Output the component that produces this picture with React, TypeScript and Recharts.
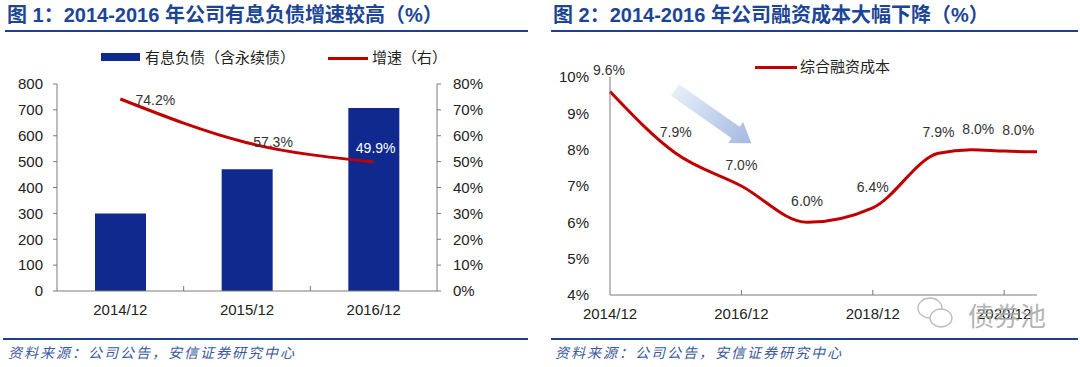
import {
  ComposedChart,
  Bar,
  Line,
  LineChart,
  XAxis,
  YAxis,
  LabelList,
} from "recharts";

// left chart: interest-bearing debt and growth
const periods = ["2014/12", "2015/12", "2016/12"];
const debt = [300, 471, 707];
const growth = [74.2, 57.3, 49.9];
const debtTicks = [0, 100, 200, 300, 400, 500, 600, 700, 800];
const growthTicks = [0, 10, 20, 30, 40, 50, 60, 70, 80];

// right chart: overall financing cost
const costPeriods = [
  "2014/12",
  "2015/12",
  "2016/12",
  "2017/12",
  "2018/12",
  "2019/12",
  "2020/06",
  "2020/12",
  "2021/06",
];
const cost = [9.6, 7.9, 7.0, 6.0, 6.4, 7.9, 8.0, 7.96, 7.94];
const costTickLabels = ["2014/12", "2016/12", "2018/12", "2020/12"];
const costYTicks = [4, 5, 6, 7, 8, 9, 10];

const toYear = (p: string) => {
  const [y, m] = p.split("/");
  return Number(y) + Number(m) / 12;
};

const debtData = periods.map((period, i) => ({
  period,
  debt: debt[i],
  growth: growth[i],
}));

const costData = costPeriods.map((period, i) => ({
  t: toYear(period),
  cost: cost[i],
}));

const BLUE = "#10298f";
const RED = "#c00000";
const TITLE = "#1d4596";
const AXIS = "#7a7a7a";
const TEXT = "#222";
const FONT = '"Liberation Sans", Arial, "Noto Sans CJK SC", sans-serif';
const CJK = '"Noto Sans CJK SC", "Liberation Sans", sans-serif';

const LEFT_BAND = 380 / periods.length;

const PeriodTick = (props: any) => {
  const { x, y, payload, index } = props;
  return (
    <g>
      {index > 0 && (
        <line
          x1={x - LEFT_BAND / 2}
          x2={x - LEFT_BAND / 2}
          y1={y - 5}
          y2={y}
          stroke={AXIS}
        />
      )}
      <text
        x={x}
        y={y + 19}
        dy="0.35em"
        textAnchor="middle"
        fontSize={15}
        fontFamily={FONT}
        fill={TEXT}
      >
        {payload.value}
      </text>
    </g>
  );
};

const CostTick = (props: any) => {
  const { x, y, index } = props;
  return (
    <g>
      {index > 0 && <line x1={x} x2={x} y1={y - 5} y2={y} stroke={AXIS} />}
      <text
        x={x}
        y={y + 19}
        dy="0.35em"
        textAnchor="middle"
        fontSize={15}
        fontFamily={FONT}
        fill={TEXT}
      >
        {costTickLabels[index]}
      </text>
    </g>
  );
};

const growthLabel = (props: any) => {
  const { x, y, value, index } = props;
  const shift = [
    [35, 1],
    [26, -1],
    [2, -14],
  ][index];
  return (
    <text
      x={x + shift[0]}
      y={y + shift[1]}
      dy="0.35em"
      textAnchor="middle"
      fontSize={14}
      fontFamily={FONT}
      fill={index === 2 ? "#fff" : "#333"}
    >
      {value.toFixed(1)}%
    </text>
  );
};

const costLabel = (props: any) => {
  const { x, y, value, index } = props;
  if (index === cost.length - 1) return null;
  const dx = index === 6 ? 7 : index === 7 ? 14 : index === 0 ? -1 : 0;
  return (
    <text
      x={x + dx}
      y={y - 21}
      dy="0.35em"
      textAnchor="middle"
      fontSize={14}
      fontFamily={FONT}
      fill="#333"
    >
      {value.toFixed(1)}%
    </text>
  );
};

const Title = ({ text, left }: { text: string; left: number }) => (
  <div
    style={{
      position: "absolute",
      left,
      top: 3,
      fontFamily: '"Liberation Sans", "Noto Sans CJK SC", sans-serif',
      fontWeight: 700,
      fontSize: 20,
      lineHeight: "24px",
      color: TITLE,
      whiteSpace: "nowrap",
    }}
  >
    {text}
  </div>
);

const Rule = ({ left, width, top }: { left: number; width: number; top: number }) => (
  <div
    style={{
      position: "absolute",
      left,
      top,
      width,
      height: 2,
      background: "#1f3f8f",
    }}
  />
);

const Source = ({ left }: { left: number }) => (
  <div
    style={{
      position: "absolute",
      left,
      top: 343,
      fontFamily: CJK,
      fontStyle: "italic",
      fontSize: 14,
      letterSpacing: 2,
      lineHeight: "18px",
      color: "#3a5a9c",
      whiteSpace: "nowrap",
    }}
  >
    资料来源：公司公告，安信证券研究中心
  </div>
);

const legendText = {
  position: "absolute" as const,
  fontFamily: CJK,
  fontSize: 15,
  lineHeight: "18px",
  color: TEXT,
  whiteSpace: "nowrap" as const,
};

export default function App() {
  return (
    <div
      style={{
        position: "absolute",
        left: 0,
        top: 0,
        width: 1080,
        height: 367,
        background: "#fff",
        overflow: "hidden",
      }}
    >
      <Title text="图 1：2014-2016 年公司有息负债增速较高（%）" left={7} />
      <Title text="图 2：2014-2016 年公司融资成本大幅下降（%）" left={553} />
      <Rule left={5} width={523} top={30} />
      <Rule left={551} width={527} top={30} />
      <Rule left={3} width={525} top={338} />
      <Rule left={551} width={527} top={338} />
      <Source left={8} />
      <Source left={555} />

      {/* left legend */}
      <div style={{ position: "absolute", left: 101, top: 53, width: 39, height: 8, background: BLUE }} />
      <div style={{ ...legendText, left: 145, top: 48 }}>有息负债（含永续债）</div>
      <div style={{ position: "absolute", left: 328, top: 57, width: 40, height: 3, background: RED }} />
      <div style={{ ...legendText, left: 372, top: 48 }}>增速（右）</div>

      {/* right legend */}
      <div style={{ position: "absolute", left: 755, top: 66, width: 42, height: 3, background: RED }} />
      <div style={{ ...legendText, left: 800, top: 57 }}>综合融资成本</div>

      <div style={{ position: "absolute", left: 0, top: 0 }}>
        <ComposedChart
          width={510}
          height={320}
          data={debtData}
          margin={{ top: 84, right: 30, bottom: 4, left: 10 }}
          barCategoryGap="30%"
        >
          <XAxis
            dataKey="period"
            height={25}
            tickSize={0}
            tickMargin={0}
            tickLine={false}
            interval={0}
            tick={<PeriodTick />}
            axisLine={{ stroke: AXIS }}
          />
          <YAxis
            yAxisId="left"
            width={47}
            domain={[0, 800]}
            ticks={debtTicks}
            interval={0}
            tickSize={4}
            tickMargin={10}
            axisLine={{ stroke: AXIS }}
            tickLine={{ stroke: AXIS }}
            tick={{ fontSize: 15, fontFamily: FONT, fill: TEXT }}
          />
          <YAxis
            yAxisId="right"
            orientation="right"
            width={43}
            domain={[0, 80]}
            ticks={growthTicks}
            interval={0}
            tickSize={4}
            tickMargin={12}
            tickFormatter={(v) => `${v}%`}
            axisLine={{ stroke: AXIS }}
            tickLine={{ stroke: AXIS }}
            tick={{ fontSize: 15, fontFamily: FONT, fill: TEXT, textAnchor: "start" }}
          />
          <Bar yAxisId="left" dataKey="debt" fill={BLUE} isAnimationActive={false} />
          <Line
            yAxisId="right"
            type="monotone"
            dataKey="growth"
            stroke={RED}
            strokeWidth={3}
            dot={false}
            isAnimationActive={false}
          >
            <LabelList dataKey="growth" content={growthLabel} />
          </Line>
        </ComposedChart>
      </div>

      <div style={{ position: "absolute", left: 540, top: 0 }}>
        <LineChart
          width={540}
          height={330}
          data={costData}
          margin={{ top: 77, right: 43, bottom: 10, left: 10 }}
        >
          <XAxis
            dataKey="t"
            type="number"
            domain={[toYear(costPeriods[0]), toYear(costPeriods[costPeriods.length - 1])]}
            ticks={costTickLabels.map(toYear)}
            interval={0}
            height={25}
            tickSize={0}
            tickMargin={0}
            tickLine={false}
            tick={<CostTick />}
            axisLine={{ stroke: AXIS }}
          />
          <YAxis
            width={60}
            domain={[4, 10]}
            ticks={costYTicks}
            interval={0}
            tickLine={false}
            tickMargin={15}
            tickFormatter={(v) => `${v}%`}
            axisLine={{ stroke: AXIS }}
            tick={{ fontSize: 15, fontFamily: FONT, fill: TEXT }}
          />
          <Line
            type="monotone"
            dataKey="cost"
            stroke={RED}
            strokeWidth={3}
            dot={false}
            isAnimationActive={false}
          >
            <LabelList dataKey="cost" content={costLabel} />
          </Line>
        </LineChart>
      </div>

      {/* decorative arrow and watermark */}
      <svg
        width={1080}
        height={367}
        style={{ position: "absolute", left: 0, top: 0, pointerEvents: "none" }}
      >
        <defs>
          <linearGradient id="arrowFill" x1="0" y1="0" x2="1" y2="0">
            <stop offset="0%" stopColor="#e8eef8" />
            <stop offset="100%" stopColor="#a3b9e2" />
          </linearGradient>
        </defs>
        <g transform="translate(675 90) rotate(35)">
          <polygon
            points="0,-7 74,-7 74,-13 93,0 74,13 74,7 0,7"
            fill="url(#arrowFill)"
          />
        </g>
        <g fill="none" stroke="#b5b5b5" strokeWidth={1.3} opacity={0.9}>
          <ellipse cx={930} cy={308} rx={12} ry={10} />
          <ellipse cx={941} cy={318} rx={11} ry={9} fill="#fff" />
        </g>
        <text
          x={968}
          y={326}
          fontSize={26}
          fontFamily={CJK}
          fill="#a8a8a8"
          opacity={0.85}
        >
          债券池
        </text>
      </svg>
    </div>
  );
}
